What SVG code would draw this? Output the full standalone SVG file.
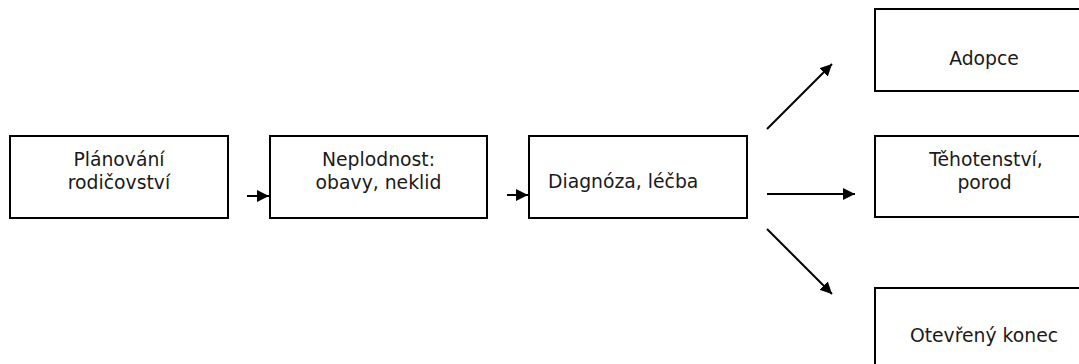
<svg xmlns="http://www.w3.org/2000/svg" width="1079" height="364" viewBox="0 0 1079 364">
<style>
.box{fill:#fff;stroke:#000;stroke-width:2}
.t{font-family:"DejaVu Sans","Verdana",sans-serif;font-size:18.8px;fill:#1a1a1a}
.c{text-anchor:middle}
.ln{stroke:#000;stroke-width:2;fill:none;marker-end:url(#ah)}
</style>
<defs>
<marker id="ah" markerUnits="userSpaceOnUse" viewBox="0 0 12 12" refX="12" refY="6" markerWidth="12" markerHeight="12" orient="auto">
<path d="M0,0 L12,6 L0,12 Z" fill="#000"/>
</marker>
</defs>
<rect width="1079" height="364" fill="#fff"/>
<g id="connectors">
<line class="ln" x1="247" y1="196" x2="269" y2="196"/>
<line class="ln" x1="507" y1="195" x2="528" y2="195"/>
<line class="ln" x1="767" y1="194" x2="855" y2="194"/>
<line class="ln" x1="767" y1="129" x2="832" y2="64"/>
<line class="ln" x1="767" y1="229" x2="832" y2="294"/>
</g>
<g id="n1">
<rect class="box" x="10" y="136" width="218" height="82"/>
<text class="t c" x="119" y="166">Plánování</text>
<text class="t c" x="119" y="189">rodičovství</text>
</g>
<g id="n2">
<rect class="box" x="270" y="136" width="217" height="82"/>
<text class="t c" x="378.5" y="166">Neplodnost:</text>
<text class="t c" x="378.5" y="189">obavy, neklid</text>
</g>
<g id="n3">
<rect class="box" x="529" y="136" width="218" height="82"/>
<text class="t" x="548" y="188">Diagnóza, léčba</text>
</g>
<g id="n4">
<rect class="box" x="875" y="9" width="218" height="82"/>
<text class="t c" x="984" y="65">Adopce</text>
</g>
<g id="n5">
<rect class="box" x="875" y="136" width="218" height="81"/>
<text class="t c" x="986" y="166">Těhotenství,</text>
<text class="t c" x="984.5" y="189">porod</text>
</g>
<g id="n6">
<rect class="box" x="875" y="288" width="218" height="82"/>
<text class="t c" x="984" y="342">Otevřený konec</text>
</g>
</svg>
